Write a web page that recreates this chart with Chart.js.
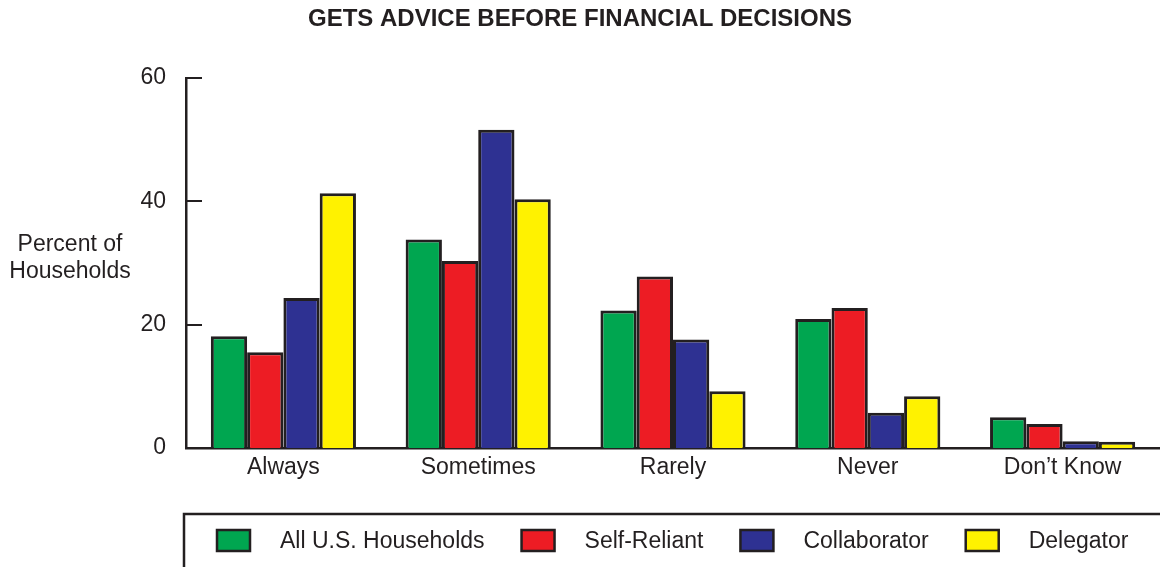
<!DOCTYPE html>
<html>
<head>
<meta charset="utf-8">
<script src="https://cdn.jsdelivr.net/npm/chart.js@4/dist/chart.umd.min.js"></script>
<style>
  html, body { margin: 0; padding: 0; background: #fff; }
  #wrap { width: 1160px; height: 567px; }
</style>
</head>
<body>
<div id="wrap"><canvas id="advice"></canvas></div>
<script>
// data
var categories = ['Always', 'Sometimes', 'Rarely', 'Never', 'Don\u2019t Know'];
var seriesNames = ['All U.S. Households', 'Self-Reliant', 'Collaborator', 'Delegator'];
var allHouseholds = [18.1, 33.8, 22.3, 20.9, 5.0];
var selfReliant = [15.5, 30.3, 27.8, 22.7, 3.9];
var collaborator = [24.3, 51.6, 17.6, 5.7, 1.1];
var delegator = [41.3, 40.3, 9.2, 8.4, 1.0];
var yTicks = [0, 20, 40, 60];

var colors = ['#00a650', '#ed1c24', '#2e3192', '#fff200'];
var ink = '#231f20';
var fontFam = '"Liberation Sans", Arial, Helvetica, sans-serif';

// y title, inside tick marks and boxed legend
var extras = {
  id: 'extras',
  afterDraw: function(chart) {
    var ctx = chart.ctx;
    var area = chart.chartArea;
    var y = chart.scales.y;
    ctx.save();

    // tick marks pointing into the plot
    ctx.strokeStyle = ink;
    ctx.lineWidth = 2;
    yTicks.forEach(function(v) {
      var py = Math.round(y.getPixelForValue(v));
      ctx.beginPath();
      ctx.moveTo(area.left, py);
      ctx.lineTo(area.left + 16, py);
      ctx.stroke();
    });

    // axis title
    ctx.fillStyle = ink;
    ctx.font = '23px ' + fontFam;
    ctx.textAlign = 'center';
    ctx.textBaseline = 'middle';
    ctx.fillText('Percent of', 70, 245);
    ctx.fillText('Households', 70, 272);

    // legend box
    ctx.lineWidth = 2.5;
    ctx.strokeRect(184, 514, 990, 70);
    ctx.textAlign = 'left';
    var x = 217;
    chart.data.datasets.forEach(function(ds) {
      ctx.fillStyle = ds.backgroundColor;
      ctx.fillRect(x, 530, 33, 21);
      ctx.strokeStyle = ink;
      ctx.strokeRect(x, 530, 33, 21);
      x += 63;
      ctx.fillStyle = ink;
      ctx.fillText(ds.label, x, 542);
      x += ctx.measureText(ds.label).width + 37;
    });
    ctx.restore();
  }
};

var seriesData = [allHouseholds, selfReliant, collaborator, delegator];
var datasets = seriesNames.map(function(name, i) {
  return {
    label: name,
    data: seriesData[i],
    backgroundColor: colors[i],
    borderColor: ink,
    borderWidth: 3,
    barPercentage: 1,
    categoryPercentage: 0.745
  };
});

new Chart(document.getElementById('advice'), {
  type: 'bar',
  data: { labels: categories, datasets: datasets },
  options: {
    responsive: true,
    maintainAspectRatio: false,
    animation: false,
    layout: { padding: { left: 0, right: 0, top: 0, bottom: 0 } },
    plugins: {
      legend: { display: false },
      tooltip: { enabled: false },
      title: {
        display: true,
        text: 'GETS ADVICE BEFORE FINANCIAL DECISIONS',
        color: ink,
        font: { family: fontFam, size: 24, weight: 'bold' },
        padding: { top: 5, bottom: 44 }
      }
    },
    scales: {
      x: {
        grid: { display: false },
        border: { display: true, color: ink, width: 2.5 },
        ticks: { color: ink, padding: -2, font: { family: fontFam, size: 23 } },
        afterFit: function(s) { s.height = 119; }
      },
      y: {
        min: 0,
        max: 60,
        afterBuildTicks: function(s) { s.ticks = yTicks.map(function(v) { return { value: v }; }); },
        grid: { display: false },
        border: { display: true, color: ink, width: 2.5 },
        ticks: { color: ink, padding: 12, font: { family: fontFam, size: 23 } },
        afterFit: function(s) { s.width = 186; }
      }
    }
  },
  plugins: [extras]
});
</script>
</body>
</html>
